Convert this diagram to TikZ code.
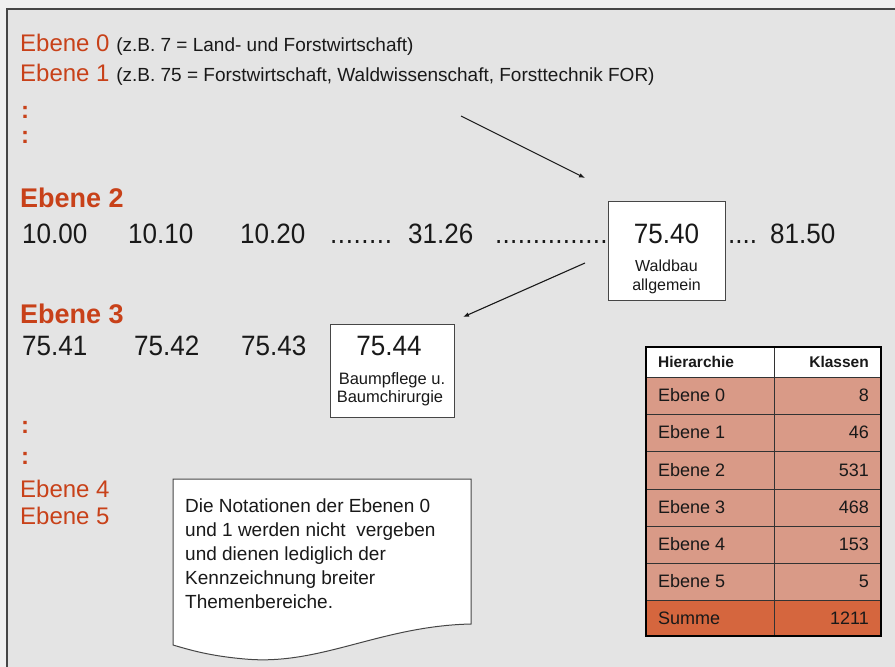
\documentclass[tikz,border=0pt]{standalone}
\usepackage{fontspec}
\setmainfont{Liberation Sans}
\newfontfamily\narrowfont[FakeStretch=0.93]{Liberation Sans}
\usetikzlibrary{arrows.meta}
\definecolor{bgcol}{RGB}{228,228,228}
\definecolor{outercol}{RGB}{240,240,240}
\definecolor{framecol}{RGB}{70,70,70}
\definecolor{ered}{RGB}{200,65,25}
\definecolor{txt}{RGB}{25,25,25}
\definecolor{rowcol}{RGB}{217,154,135}
\definecolor{sumcol}{RGB}{213,102,62}
\newcommand\myfs[1]{\fontsize{#1}{#1}\selectfont}
\tikzset{
  lbl/.style={inner sep=0pt, anchor=base west, text=txt},
  rlbl/.style={inner sep=0pt, anchor=base west, text=ered},
  ctr/.style={inner sep=0pt, anchor=base, text=txt},
  whitebox/.style={draw=framecol, line width=1pt, fill=white},
  arr/.style={draw=txt, line width=1.1pt, -{Latex[length=6pt,width=4.5pt]}},
  tcell/.style={inner sep=0pt, text=txt, font=\myfs{18}},
}
\begin{document}
\begin{tikzpicture}[x=1pt,y=-1pt]
\useasboundingbox (0,0) rectangle (895,667);
\clip (0,0) rectangle (895,667);
\fill[outercol] (-5,-5) rectangle (900,672);
\fill[bgcol] (7,9) rectangle (900,672);
\draw[framecol, line width=2pt] (7,680) -- (7,9) -- (905,9);

% top lines
\node[lbl] (e0) at (20,51) {\myfs{24}\textcolor{ered}{Ebene 0} \myfs{19}(z.B. 7 = Land- und Forstwirtschaft)};
\node[lbl] (e1) at (20,81) {\myfs{24}\textcolor{ered}{Ebene 1} \myfs{19}(z.B. 75 = Forstwirtschaft, Waldwissenschaft, Forsttechnik FOR)};
\node[rlbl, font=\myfs{24}\bfseries] (c1) at (21,118) {:};
\node[rlbl, font=\myfs{24}\bfseries] (c2) at (21,143) {:};

% Ebene 2
\node[rlbl, font=\myfs{27}\bfseries] (e2) at (20,207) {Ebene 2};
\node[whitebox, minimum width=117pt, minimum height=99pt, inner sep=0pt] (b40) at (666.5,250.5) {};
\node[lbl, font=\narrowfont\myfs{28}] (n1) at (22,243) {10.00};
\node[lbl, font=\narrowfont\myfs{28}] (n2) at (128,243) {10.10};
\node[lbl, font=\narrowfont\myfs{28}] (n3) at (240,243) {10.20};
\node[lbl, font=\narrowfont\myfs{28}] (d1) at (330,243) {\addfontfeature{LetterSpace=2}........};
\node[lbl, font=\narrowfont\myfs{28}] (n4) at (408,243) {31.26};
\node[lbl, font=\narrowfont\myfs{28}] (d2) at (495,243) {\addfontfeature{LetterSpace=1}...............};
\node[ctr, font=\narrowfont\myfs{28}] (n40) at (666.5,243) {75.40};
\node[ctr, font=\myfs{16}] (w1) at (666.5,271) {Waldbau};
\node[ctr, font=\myfs{16}] (w2) at (666.5,290) {allgemein};
\node[lbl, font=\narrowfont\myfs{28}] (d3) at (728,243) {....};
\node[lbl, font=\narrowfont\myfs{28}] (n5) at (770,243) {81.50};

% arrows
\coordinate (a1s) at (461,116);
\coordinate (a1e) at (585,178);
\coordinate (a2s) at (585,263);
\coordinate (a2e) at (463,317);
\draw[arr] (a1s) -- (a1e);
\draw[arr] (a2s) -- (a2e);

% Ebene 3
\node[rlbl, font=\myfs{27}\bfseries] (e3) at (20,323) {Ebene 3};
\node[whitebox, minimum width=124pt, minimum height=93pt, inner sep=0pt] (b44) at (392,370.5) {};
\node[lbl, font=\narrowfont\myfs{28}] (m1) at (22,355) {75.41};
\node[lbl, font=\narrowfont\myfs{28}] (m2) at (134,355) {75.42};
\node[lbl, font=\narrowfont\myfs{28}] (m3) at (241,355) {75.43};
\node[ctr, font=\narrowfont\myfs{28}] (n44) at (389,355) {75.44};
\node[ctr, font=\myfs{16.5}] (p1) at (392,384) {Baumpflege u.};
\node[ctr, font=\myfs{16.5}] (p2) at (390,402) {Baumchirurgie};

% lower left
\node[rlbl, font=\myfs{24}\bfseries] (c3) at (21,433) {:};
\node[rlbl, font=\myfs{24}\bfseries] (c4) at (21,464) {:};
\node[rlbl, font=\myfs{24}] (e4) at (20,497) {Ebene 4};
\node[rlbl, font=\myfs{24}] (e5) at (20,524) {Ebene 5};

% note
\draw[framecol, line width=1pt, fill=white] (173,479) -- (471,479) -- (471,624)
  .. controls (380,626) and (320,666) .. (245,659)
  .. controls (210,656) and (190,650) .. (173,645) -- cycle;
\node[inner sep=0pt, anchor=north west, align=left, text=txt, font=\fontsize{19}{24}\selectfont] (note) at (185,499)
  {Die Notationen der Ebenen 0\\und 1 werden nicht\ \ vergeben\\und dienen lediglich der\\Kennzeichnung breiter\\Themenbereiche.};

% table
\fill[white] (646,347) rectangle (881,377);
\fill[rowcol] (646,377) rectangle (881,600);
\fill[sumcol] (646,600) rectangle (881,636);
\foreach \yy in {377,414,451,489,526,563,600}
  \draw[black!80, line width=0.8pt] (646,\yy) -- (881,\yy);
\draw[black!80, line width=0.8pt] (774,347) -- (774,636);
\draw[black, line width=2pt] (646,347) rectangle (881,636);
\node[tcell, anchor=west, font=\myfs{15.5}\bfseries] (th1) at (658,362) {Hierarchie};
\node[tcell, anchor=east, font=\myfs{15.5}\bfseries] (th2) at (869,362) {Klassen};
\node[tcell, anchor=west] (r0a) at (658,395.5) {Ebene 0};
\node[tcell, anchor=east] (r0b) at (869,395.5) {8};
\node[tcell, anchor=west] (r1a) at (658,432.5) {Ebene 1};
\node[tcell, anchor=east] (r1b) at (869,432.5) {46};
\node[tcell, anchor=west] (r2a) at (658,470) {Ebene 2};
\node[tcell, anchor=east] (r2b) at (869,470) {531};
\node[tcell, anchor=west] (r3a) at (658,507.5) {Ebene 3};
\node[tcell, anchor=east] (r3b) at (869,507.5) {468};
\node[tcell, anchor=west] (r4a) at (658,544.5) {Ebene 4};
\node[tcell, anchor=east] (r4b) at (869,544.5) {153};
\node[tcell, anchor=west] (r5a) at (658,581.5) {Ebene 5};
\node[tcell, anchor=east] (r5b) at (869,581.5) {5};
\node[tcell, anchor=west] (sa) at (658,618) {Summe};
\node[tcell, anchor=east] (sb) at (869,618) {1211};
\end{tikzpicture}
\end{document}
